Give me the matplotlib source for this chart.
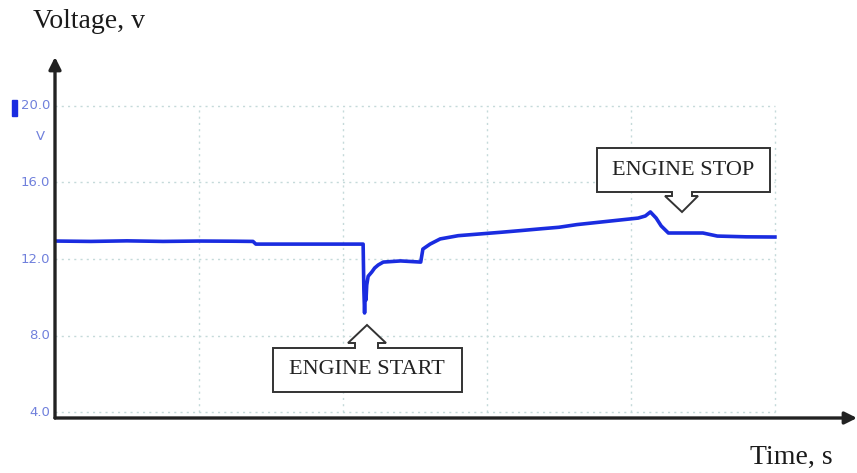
import matplotlib
matplotlib.use("Agg")
import matplotlib.pyplot as plt
from matplotlib.patches import Polygon, Rectangle

# Battery voltage trace (time in s, voltage in V)
time_s = [0.00, 0.50, 1.00, 1.50, 2.00, 2.50, 2.75, 2.79, 3.50, 4.28,
          4.29, 4.30, 4.31, 4.32, 4.33, 4.35, 4.40, 4.44, 4.49, 4.56,
          4.80, 5.08, 5.11, 5.21, 5.35, 5.60, 5.90, 6.20, 6.45, 6.75,
          7.00, 7.25, 7.55, 7.85, 8.10, 8.20, 8.27, 8.35, 8.42, 8.52,
          8.70, 9.00, 9.20, 9.60, 10.00]
volts = [12.94, 12.92, 12.95, 12.92, 12.94, 12.93, 12.92, 12.78, 12.78, 12.78,
         10.40, 9.18, 10.38, 9.86, 10.64, 11.10, 11.32, 11.53, 11.69, 11.84,
         11.90, 11.84, 12.52, 12.78, 13.05, 13.22, 13.31, 13.40, 13.48, 13.58,
         13.66, 13.80, 13.92, 14.04, 14.14, 14.25, 14.46, 14.14, 13.73, 13.36,
         13.36, 13.36, 13.20, 13.16, 13.15]

y_ticks = [4.0, 8.0, 12.0, 16.0, 20.0]
x_grid = [2, 4, 6, 8, 10]

W, H = 857, 473
fig = plt.figure(figsize=(W / 100, H / 100), dpi=100)


def fx(x):
    return x / W


def fy(y):
    return 1 - y / H


ax = fig.add_axes([fx(55), fy(418), fx(857) - fx(55), fy(57) - fy(418)])
ax.set_xlim(0, 11.14)
ax.set_ylim(3.69, 22.56)
for s in ax.spines.values():
    s.set_visible(False)
ax.set_xticks([])
ax.set_yticks([])

grid_kw = dict(color="#c5dada", lw=1.0, ls=(0, (1.5, 3)), zorder=1)
for v in y_ticks:
    ax.plot([0, 10], [v, v], **grid_kw)
for t in x_grid:
    ax.plot([t, t], [4.0, 20.0], **grid_kw)

ax.plot(time_s, volts, color="#1a2ce0", lw=2.6, solid_joinstyle="round", zorder=3)

# Axes with arrow heads
arrow_kw = dict(arrowstyle="-|>", lw=2.4, color="#222222", mutation_scale=18,
                shrinkA=0, shrinkB=0)
ax.annotate("", xy=(1.0, 0.0), xytext=(0.0, 0.0), xycoords="axes fraction",
            arrowprops=arrow_kw, zorder=5)
ax.annotate("", xy=(0.0, 1.0), xytext=(0.0, 0.0), xycoords="axes fraction",
            arrowprops=arrow_kw, zorder=5)

# Y tick labels
for v in y_ticks:
    ax.text(-0.006, v, f"{v:.1f}", ha="right", va="center", fontsize=9.5,
            color="#7080dc", family="DejaVu Sans",
            transform=ax.get_yaxis_transform())
ax.text(-0.012, 18.38, "V", ha="right", va="center", fontsize=9.5,
        color="#7080dc", family="DejaVu Sans",
        transform=ax.get_yaxis_transform())
fig.patches.append(Rectangle((fx(12), fy(116)), fx(5), fy(100) - fy(116),
                             transform=fig.transFigure, color="#1a2ce0"))

serif = "Liberation Serif"
fig.text(fx(33), fy(22), "Voltage, v", ha="left", va="center", fontsize=20,
         family=serif, color="#1a1a1a")
fig.text(fx(750), fy(457), "Time, s", ha="left", va="center", fontsize=20,
         family=serif, color="#1a1a1a")


def callout(points, label, cx, cy):
    poly = Polygon([(fx(x), fy(y)) for x, y in points], closed=True,
                   transform=fig.transFigure, facecolor="white",
                   edgecolor="#333333", lw=1.4, zorder=10)
    fig.patches.append(poly)
    fig.text(fx(cx), fy(cy), label, ha="center", va="center", fontsize=16,
             family=serif, color="#222222", zorder=11)


callout([(273, 348), (355, 348), (355, 343), (348, 343), (367, 325),
         (386, 343), (378, 343), (378, 348), (462, 348), (462, 392),
         (273, 392)], "ENGINE START", 367, 370)
callout([(597, 148), (770, 148), (770, 192), (692, 192), (692, 196),
         (698, 196), (682, 212), (665, 196), (672, 196), (672, 192),
         (597, 192)], "ENGINE STOP", 683, 170)

fig.savefig("out.png", dpi=100)
